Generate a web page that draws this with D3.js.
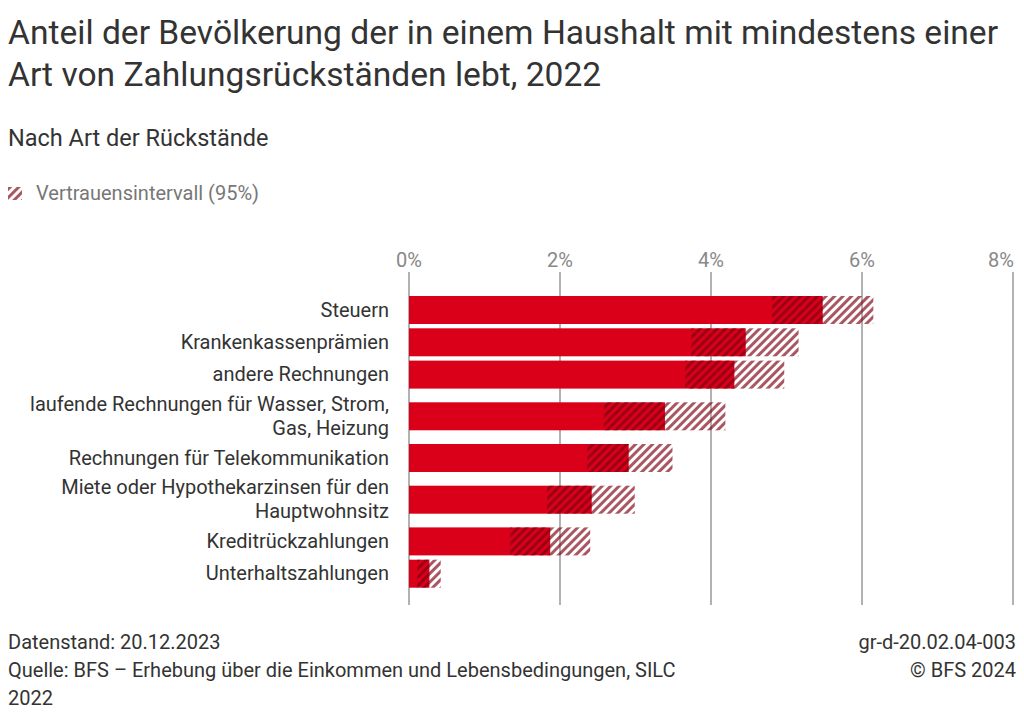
<!DOCTYPE html>
<html><head><meta charset="utf-8">
<script src="https://cdn.jsdelivr.net/npm/d3@7"></script>
<style>body{margin:0;background:#fff;} svg{display:block;font-family:Roboto,sans-serif;}</style>
</head><body><svg id="c" width="1024" height="720"></svg>
<script>
const categories = [
  ["Steuern"],
  ["Krankenkassenprämien"],
  ["andere Rechnungen"],
  ["laufende Rechnungen für Wasser, Strom,", "Gas, Heizung"],
  ["Rechnungen für Telekommunikation"],
  ["Miete oder Hypothekarzinsen für den", "Hauptwohnsitz"],
  ["Kreditrückzahlungen"],
  ["Unterhaltszahlungen"]
];
const values = [5.48, 4.46, 4.31, 3.39, 2.91, 2.42, 1.87, 0.27];
const ciLow  = [4.81, 3.74, 3.66, 2.58, 2.36, 1.83, 1.34, 0.11];
const ciHigh = [6.15, 5.16, 4.97, 4.19, 3.49, 2.99, 2.40, 0.42];
const tickValues = [0, 2, 4, 6, 8];
const titleLines = ["Anteil der Bevölkerung der in einem Haushalt mit mindestens einer", "Art von Zahlungsrückständen lebt, 2022"];
const subtitle = "Nach Art der Rückstände";
const legendLabel = "Vertrauensintervall (95%)";
const footLeft = ["Datenstand: 20.12.2023", "Quelle: BFS – Erhebung über die Einkommen und Lebensbedingungen, SILC", "2022"];
const footRight = ["gr-d-20.02.04-003", "© BFS 2024"];

const svg = d3.select("#c");
const defs = svg.append("defs");
function hatch(id, bg, color) {
  const p = defs.append("pattern").attr("id", id).attr("patternUnits", "userSpaceOnUse")
    .attr("width", 6).attr("height", 6).attr("patternTransform", "rotate(45)");
  if (bg) p.append("rect").attr("width", 6).attr("height", 6).attr("fill", bg);
  p.append("rect").attr("x", 0).attr("width", 3).attr("height", 6).attr("fill", color);
}
hatch("ci", null, "rgba(125,0,18,0.66)");
hatch("ciLeg", "#fff", "rgba(125,0,18,0.66)");

// title
const tt = svg.append("g").attr("fill", "#333").style("font-size", "33.6px");
titleLines.forEach((t, i) => tt.append("text").attr("x", 8).attr("y", 44 + i * 42).text(t));
svg.append("text").attr("x", 8).attr("y", 146).attr("fill", "#333").style("font-size", "23.5px").text(subtitle);

// legend
svg.append("rect").attr("x", 8).attr("y", 187).attr("width", 14).attr("height", 13).attr("fill", "url(#ciLeg)");
svg.append("text").attr("x", 36).attr("y", 200).attr("fill", "#777").style("font-size", "20px").text(legendLabel);

// scales
const x = d3.scaleLinear().domain([0, 8]).range([409, 1013]);
const rowH = categories.map(c => 32.3 + (c.length - 1) * 18.8);
const ends = d3.cumsum(rowH);
const top0 = 293.85;
const centers = rowH.map((h, i) => top0 + ends[i] - h / 2);
const y = d3.scaleOrdinal().domain(d3.range(categories.length)).range(centers);
const barH = 28;

// grid
const axisG = svg.append("g");
axisG.selectAll("line").data(tickValues).join("line")
  .attr("x1", d => x(d)).attr("x2", d => x(d)).attr("y1", 272).attr("y2", 605)
  .attr("stroke", "#999").attr("stroke-width", 1.5);
const lastTick = tickValues[tickValues.length - 1];
axisG.selectAll("text").data(tickValues).join("text")
  .attr("x", d => d === lastTick ? x(d) + 1 : x(d)).attr("y", 267)
  .attr("text-anchor", d => d === lastTick ? "end" : "middle")
  .attr("fill", "#888").style("font-size", "20px").text(d => d + "%");

const idx = d3.range(categories.length);
// bars
svg.append("g").selectAll("rect").data(idx).join("rect")
  .attr("x", x(0)).attr("y", i => y(i) - barH / 2)
  .attr("width", i => x(values[i]) - x(0)).attr("height", barH)
  .attr("fill", "#da001a");
// CI
svg.append("g").selectAll("rect").data(idx).join("rect")
  .attr("x", i => x(ciLow[i])).attr("y", i => y(i) - barH / 2)
  .attr("width", i => x(ciHigh[i]) - x(ciLow[i])).attr("height", barH)
  .attr("fill", "url(#ci)");

// labels
const lab = svg.append("g").attr("fill", "#333").style("font-size", "20px").attr("text-anchor", "end");
idx.forEach(i => {
  const lines = categories[i];
  const lh = 24.5;
  const first = y(i) + 6.5 - (lines.length - 1) * lh / 2;
  lines.forEach((l, j) => lab.append("text").attr("x", 389).attr("y", first + j * lh).text(l));
});

// footer
const fl = svg.append("g").attr("fill", "#333").style("font-size", "20px");
footLeft.forEach((t, i) => fl.append("text").attr("x", 8).attr("y", 649 + i * 28).text(t));
const fr = svg.append("g").attr("fill", "#333").style("font-size", "20px").attr("text-anchor", "end");
footRight.forEach((t, i) => fr.append("text").attr("x", 1016).attr("y", 649 + i * 28).text(t));
</script></body></html>
